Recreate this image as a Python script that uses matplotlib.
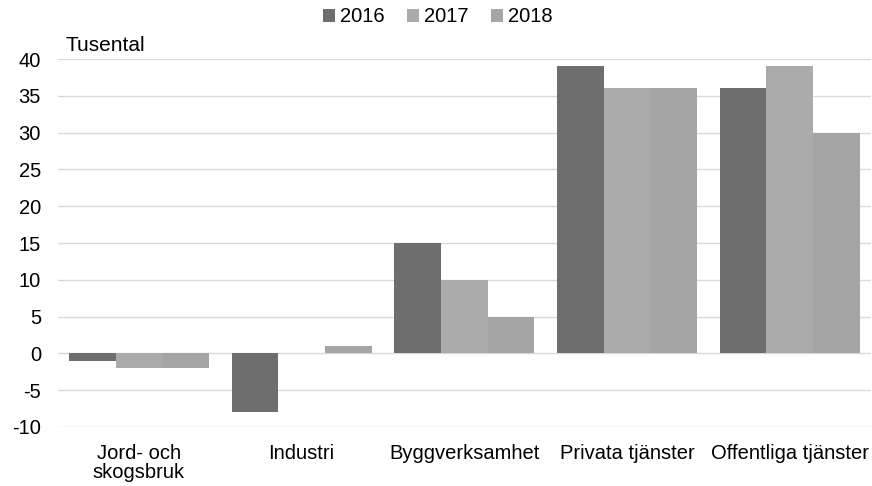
import matplotlib
matplotlib.use("Agg")
import matplotlib.pyplot as plt
import numpy as np

plt.rcParams['font.family'] = ['Liberation Sans', 'DejaVu Sans']

categories = ["Jord- och\nskogsbruk", "Industri", "Byggverksamhet", "Privata tjänster", "Offentliga tjänster"]
years = ["2016", "2017", "2018"]
v2016 = [-1, -8, 15, 39, 36]
v2017 = [-2, 0, 10, 36, 39]
v2018 = [-2, 1, 5, 36, 30]
colors = ["#6e6e6e", "#ababab", "#a5a5a5"]
yticks = [-10, -5, 0, 5, 10, 15, 20, 25, 30, 35, 40]

fs = 14.5
fig = plt.figure(figsize=(8.72, 4.86), dpi=100)
ax = fig.add_axes([0.066, 0.1214, 0.933, 0.7572])

x = np.arange(len(categories))
w = 0.86 / 3
for i, (vals, c, lab) in enumerate(zip([v2016, v2017, v2018], colors, years)):
    ax.bar(x + (i - 1) * w, vals, w, color=c, label=lab, zorder=3)

ax.set_xlim(-0.5, len(categories) - 0.5)
ax.set_ylim(-10, 40)
ax.set_yticks(yticks)
ax.set_yticklabels([str(t) for t in yticks], fontsize=fs)
ax.set_xticks(x)
ax.set_xticklabels(categories, fontsize=fs, linespacing=1.05)
ax.tick_params(axis='x', length=0, pad=12)
ax.tick_params(axis='y', length=0, pad=12)
ax.grid(axis='y', color='#d9d9d9', linewidth=1, zorder=0)
for s in ax.spines.values():
    s.set_visible(False)

fig.text(0.075, 0.907, "Tusental", fontsize=fs + 0.5, ha='left', va='center')
ax.legend(loc='center', bbox_to_anchor=(0.502, (486 - 17) / 486), bbox_transform=fig.transFigure,
          ncol=3, frameon=False, fontsize=fs, handlelength=0.6, handleheight=0.6,
          handletextpad=0.25, columnspacing=1.1, borderpad=0)

fig.savefig("out.png", dpi=100)
